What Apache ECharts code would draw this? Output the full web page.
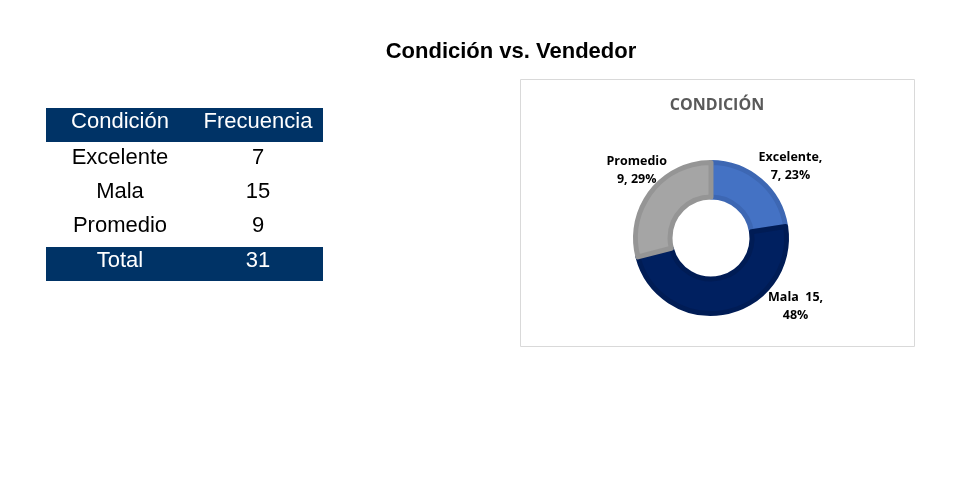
<!DOCTYPE html>
<html>
<head>
<meta charset="utf-8">
<script src="https://cdn.jsdelivr.net/npm/echarts@6/dist/echarts.min.js"></script>
<style>
html,body{margin:0;padding:0;background:#fff;}
#c{width:976px;height:485px;}
</style>
</head>
<body>
<div id="c"></div>
<script>
var pageTitle = 'Condición vs. Vendedor';
var chartTitle = 'CONDICIÓN';
var tableHeaders = ['Condición', 'Frecuencia'];
var categories = ['Excelente', 'Mala', 'Promedio'];
var values = [7, 15, 9];
var totalLabel = 'Total';
var labelTemplates = ['{b},\n{c}, {p}%', '{b}  {c},\n{p}%', '{b}\n{c}, {p}%'];

var colors = ['#4472C4', '#002060', '#A5A5A5'];
var borderColors = ['#3D67B3', '#001C55', '#959595'];
var labelOffsets = [[24, -13], [64, -7], [-8, -20]];

var total = values.reduce(function (a, b) { return a + b; }, 0);

var chart = echarts.init(document.getElementById('c'), null, { renderer: 'canvas' });

var tbl = { x: 46, w: 277, headerY: 108, rowH: 34, col: [120, 258] };
var graphics = [];
function textEl(str, cx, cy, color) {
  return { type: 'text', x: cx, y: cy, style: { text: str, fill: color, font: '22px "Liberation Sans", Arial, sans-serif', align: 'center', verticalAlign: 'middle' } };
}
graphics.push({ type: 'rect', shape: { x: tbl.x, y: tbl.headerY, width: tbl.w, height: tbl.rowH }, style: { fill: '#003366' } });
tableHeaders.forEach(function (h, i) { graphics.push(textEl(h, tbl.col[i], tbl.headerY + 14, '#ffffff')); });
categories.forEach(function (c, r) {
  var cy = 157.5 + r * 34;
  graphics.push(textEl(c, tbl.col[0], cy, '#000000'));
  graphics.push(textEl(String(values[r]), tbl.col[1], cy, '#000000'));
});
var totY = 247;
graphics.push({ type: 'rect', shape: { x: tbl.x, y: totY, width: tbl.w, height: tbl.rowH }, style: { fill: '#003366' } });
graphics.push(textEl(totalLabel, tbl.col[0], totY + 14, '#ffffff'));
graphics.push(textEl(String(total), tbl.col[1], totY + 14, '#ffffff'));
graphics.push({ type: 'rect', shape: { x: 520.5, y: 79.5, width: 394, height: 267 }, style: { fill: 'none', stroke: '#D9D9D9', lineWidth: 1 } });
graphics.push({ type: 'text', x: 717, y: 105, style: { text: chartTitle, fill: '#595959', font: 'bold 16px "Open Sans", sans-serif', align: 'center', verticalAlign: 'middle' } });
graphics.push({ type: 'text', x: 511, y: 52, style: { text: pageTitle, fill: '#000000', font: 'bold 22px "Liberation Sans", Arial, sans-serif', align: 'center', verticalAlign: 'middle' } });

chart.setOption({
  animation: false,
  graphic: graphics,
  series: [{
    type: 'pie',
    center: [711, 238],
    radius: [41, 75.5],
    startAngle: 90,
    clockwise: true,
    data: categories.map(function (c, i) {
      return {
        name: c, value: values[i],
        itemStyle: { color: colors[i], borderColor: borderColors[i], borderWidth: 5 }
      };
    }),
    label: {
      show: true,
      position: 'outside',
      fontFamily: '"Open Sans", sans-serif',
      fontSize: 12.5,
      fontWeight: 'bold',
      color: '#000',
      lineHeight: 18,
      formatter: function (p) {
        return labelTemplates[p.dataIndex].replace('{b}', p.name).replace('{c}', p.value).replace('{p}', Math.round(p.percent));
      }
    },
    labelLine: { show: false, length: 2, length2: 0 },
    labelLayout: function (p) {
      return { align: 'center', verticalAlign: 'middle', dx: labelOffsets[p.dataIndex][0], dy: labelOffsets[p.dataIndex][1] };
    }
  }]
});
</script>
</body>
</html>
